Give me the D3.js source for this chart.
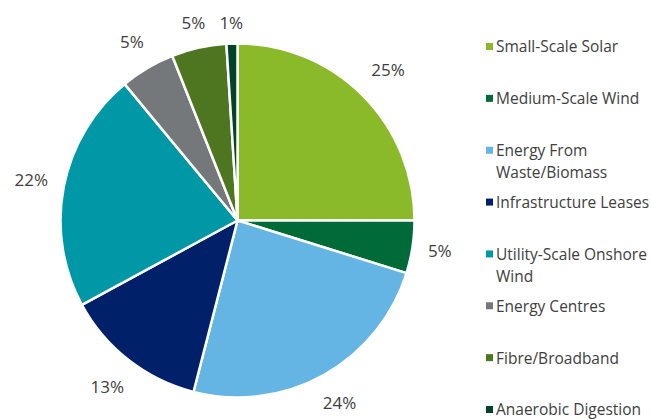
<!DOCTYPE html>
<html>
<head>
<meta charset="utf-8">
<script src="https://cdn.jsdelivr.net/npm/d3@7"></script>
<style>
  body { margin: 0; background: #fff; }
  svg { display: block; font-family: "Open Sans", "Liberation Sans", sans-serif; }
</style>
</head>
<body>
<svg id="chart" width="651" height="419"></svg>
<script>
// chart data
var categories = ["Small-Scale Solar", "Medium-Scale Wind", "Energy From Waste/Biomass",
  "Infrastructure Leases", "Utility-Scale Onshore Wind", "Energy Centres",
  "Fibre/Broadband", "Anaerobic Digestion"];
var shares = [25, 4.8, 24.2, 13.1, 21.9, 5, 5, 1];
var legendLines = [["Small-Scale Solar"], ["Medium-Scale Wind"], ["Energy From", "Waste/Biomass"],
  ["Infrastructure Leases"], ["Utility-Scale Onshore", "Wind"], ["Energy Centres"],
  ["Fibre/Broadband"], ["Anaerobic Digestion"]];
var colours = ["#8aba2a", "#006a38", "#64b4e4", "#00206a", "#0097a7", "#75787b", "#4e7520", "#00432a"];

var svg = d3.select("#chart");
var cx = 237.5, cy = 220.5, r = 177;

var color = d3.scaleOrdinal().domain(categories).range(colours);

var pie = d3.pie().sort(null).value(function(d) { return d.v; });
var rows = categories.map(function(c, i) { return { name: c, v: shares[i] }; });
var arcs = pie(rows);

var arc = d3.arc().innerRadius(0).outerRadius(r);

var g = svg.append("g").attr("transform", "translate(" + cx + "," + cy + ")");

g.selectAll("path.slice")
  .data(arcs)
  .enter().append("path")
  .attr("class", "slice")
  .attr("d", arc)
  .attr("fill", function(d) { return color(d.data.name); })
  .attr("stroke", "#fff")
  .attr("stroke-width", 2.5)
  .attr("stroke-linejoin", "round");

// labels sit just outside the rim, pushed out by their own box size
var labels = g.selectAll("text.lbl")
  .data(arcs)
  .enter().append("text")
  .attr("class", "lbl")
  .attr("text-anchor", "middle")
  .attr("dy", "0.35em")
  .attr("font-size", 17)
  .attr("fill", "#404040")
  .text(function(d) { return Math.round(d.data.v) + "%"; });

labels.attr("transform", function(d) {
  var a = (d.startAngle + d.endAngle) / 2;
  var hw = this.getComputedTextLength() / 2, hh = 7;
  var rr = r + 13 + hw * Math.abs(Math.sin(a)) + hh * Math.abs(Math.cos(a)) + 6 * Math.abs(Math.sin(2 * a));
  return "translate(" + (rr * Math.sin(a)) + "," + (-rr * Math.cos(a)) + ")";
});

// legend
var legend = svg.append("g").attr("transform", "translate(486,0)");
var itemY = d3.scaleLinear().domain([0, categories.length - 1]).range([47, 410]);

var items = legend.selectAll("g.item")
  .data(categories)
  .enter().append("g")
  .attr("class", "item")
  .attr("transform", function(d, i) { return "translate(0," + itemY(i) + ")"; });

items.append("rect")
  .attr("x", 0).attr("y", -4)
  .attr("width", 7).attr("height", 7)
  .attr("fill", function(d) { return color(d); });

items.append("text")
  .attr("font-size", 15.5)
  .attr("fill", "#404040")
  .selectAll("tspan")
  .data(function(d, i) { return legendLines[i]; })
  .enter().append("tspan")
  .attr("x", 10)
  .attr("dy", function(d, j) { return j === 0 ? "0.35em" : "22px"; })
  .text(function(d) { return d; });
</script>
</body>
</html>
